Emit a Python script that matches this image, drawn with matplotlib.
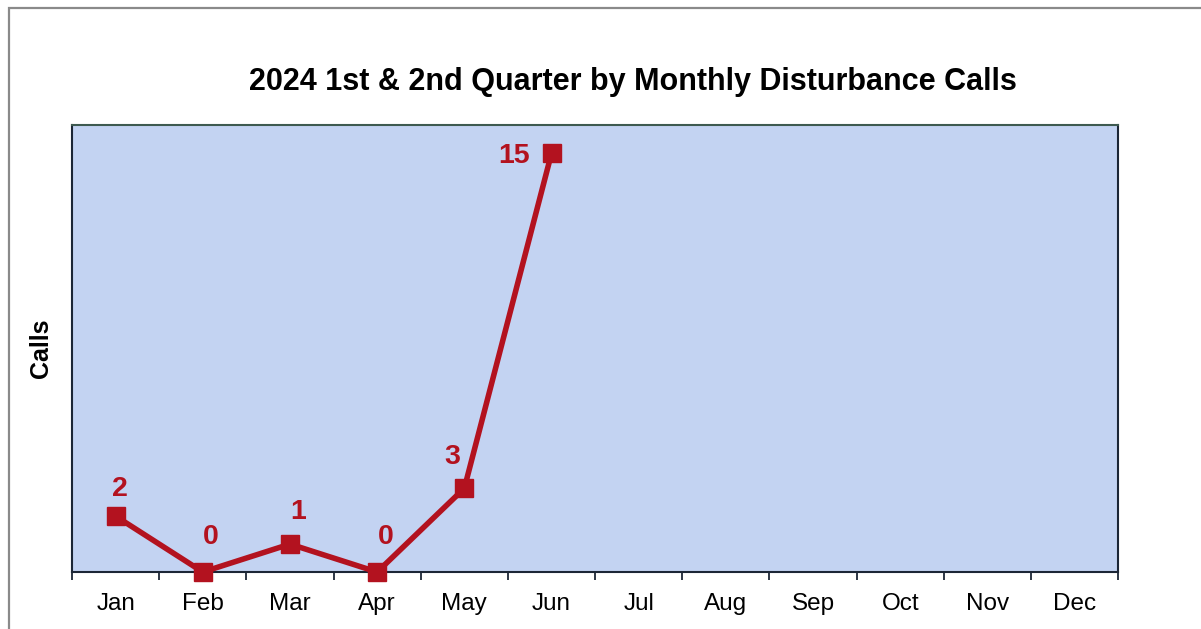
"""2024 1st & 2nd Quarter by Monthly Disturbance Calls — out.png"""
import matplotlib.pyplot as plt
from matplotlib.patches import Rectangle
import numpy as np

plt.rcParams["font.family"] = ["Liberation Sans", "DejaVu Sans"]

# ─── data ───────────────────────────────────────────────
MONTHS = ["Jan", "Feb", "Mar", "Apr", "May", "Jun",
          "Jul", "Aug", "Sep", "Oct", "Nov", "Dec"]
CALLS = [2, 0, 1, 0, 3, 15]
TITLE = "2024 1st & 2nd Quarter by Monthly Disturbance Calls"

LINE_COLOR = "#b3121f"
BG_COLOR = "#c3d3f2"
SPINE_COLOR = "#1c2636"

fig = plt.figure(figsize=(12.01, 6.29), dpi=100)
ax = fig.add_axes([0.060, 0.0906, 0.871, 0.710])
ax.set_facecolor(BG_COLOR)

x = np.arange(len(CALLS)) + 0.5
ax.plot(x, CALLS, color=LINE_COLOR, linewidth=4, marker="s",
        markersize=13, markerfacecolor=LINE_COLOR, markeredgecolor=LINE_COLOR,
        clip_on=False, zorder=5)

# label offsets (points) — Excel style, "15" sits left of its marker
offsets = [(3, 10), (6, 16), (6, 14), (6, 16), (-9, 13), (-27, -11)]
for xi, v, off in zip(x, CALLS, offsets):
    ax.annotate(str(v), (xi, v), xytext=off, textcoords="offset points",
                ha="center", va="bottom", fontsize=20.5, weight="bold",
                color=LINE_COLOR, zorder=6)

ax.set_xlim(0, len(MONTHS))
ax.set_ylim(0, 16)
ax.set_xticks(np.arange(len(MONTHS) + 1))
ax.set_xticklabels([])
ax.set_xticks(np.arange(len(MONTHS)) + 0.5, minor=True)
ax.set_xticklabels(MONTHS, minor=True, fontsize=17.5)
ax.tick_params(axis="x", which="major", direction="out", length=6,
               width=1.3, color=SPINE_COLOR)
ax.tick_params(axis="x", which="minor", length=0, pad=15)
ax.set_yticks([])
for s in ax.spines.values():
    s.set_color(SPINE_COLOR)
    s.set_linewidth(1.5)
ax.spines["top"].set_color("#3e5a50")

ax.set_ylabel("Calls", fontsize=18, weight="bold", labelpad=14)
fig.text(633 / 1201, 1 - 82 / 629, TITLE, ha="center", va="center",
         fontsize=22, weight="bold")

# outer chart border (cropped on right and bottom)
fig.add_artist(Rectangle((9 / 1201, -0.1), 1.2, 1 - 8 / 629 + 0.1,
                         transform=fig.transFigure, fill=False,
                         edgecolor="#8a8a8a", linewidth=1.6))

fig.savefig("out.png", dpi=100, facecolor="white")
